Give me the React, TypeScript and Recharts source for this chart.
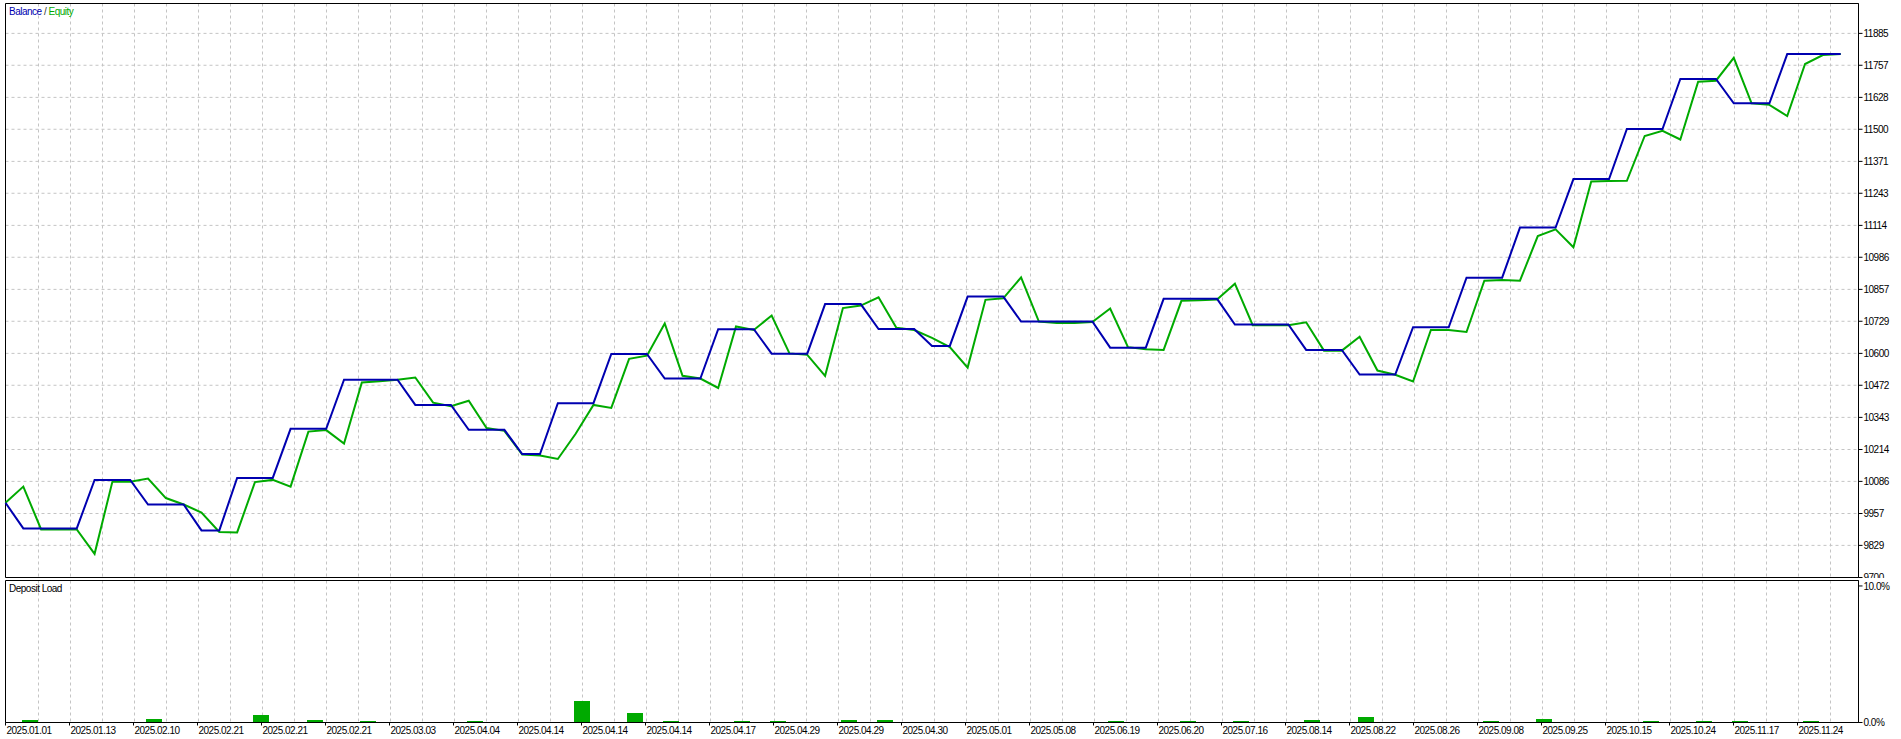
import React from 'react';
import { LineChart, Line, XAxis, YAxis, CartesianGrid, ReferenceArea, ComposedChart, Bar } from 'recharts';

// ---- data -------------------------------------------------------------
const BALANCE = [
  10000, 9897, 9897, 9897, 9897, 10092, 10092, 10092, 9993, 9993,
  9993, 9889, 9889, 10100, 10100, 10100, 10297, 10297, 10297, 10494,
  10494, 10494, 10494, 10393, 10393, 10393, 10293, 10293, 10293, 10196,
  10196, 10400, 10400, 10400, 10598, 10598, 10598, 10499, 10499, 10499,
  10697, 10697, 10697, 10599, 10599, 10599, 10798, 10798, 10798, 10698,
  10698, 10698, 10630, 10630, 10828, 10828, 10828, 10728, 10728, 10728,
  10728, 10728, 10623, 10623, 10623, 10819, 10819, 10819, 10819, 10716,
  10716, 10716, 10716, 10614, 10614, 10614, 10515, 10515, 10515, 10705,
  10705, 10705, 10904, 10904, 10904, 11105, 11105, 11105, 11300, 11300,
  11300, 11501, 11501, 11501, 11702, 11702, 11702, 11604, 11604, 11604,
  11802, 11802, 11802, 11802,
];

const EQUITY = [
  10000, 10065, 9893, 9893, 9893, 9795, 10085, 10085, 10097, 10019,
  9993, 9961, 9883, 9881, 10083, 10092, 10065, 10286, 10292, 10238,
  10483, 10488, 10494, 10503, 10402, 10388, 10410, 10300, 10289, 10194,
  10190, 10176, 10277, 10393, 10381, 10578, 10591, 10720, 10510, 10499,
  10461, 10708, 10694, 10752, 10600, 10594, 10510, 10782, 10792, 10825,
  10703, 10694, 10662, 10625, 10543, 10815, 10821, 10905, 10728, 10722,
  10722, 10726, 10780, 10625, 10617, 10614, 10811, 10813, 10816, 10880,
  10713, 10713, 10713, 10725, 10611, 10611, 10667, 10531, 10514, 10487,
  10694, 10694, 10686, 10892, 10895, 10892, 11071, 11098, 11026, 11290,
  11292, 11293, 11473, 11494, 11459, 11691, 11695, 11787, 11604, 11598,
  11553, 11762, 11798, 11802,
];

const DATE_LABELS = [
  '2025.01.01', '2025.01.13', '2025.02.10', '2025.02.21', '2025.02.21',
  '2025.02.21', '2025.03.03', '2025.04.04', '2025.04.14', '2025.04.14',
  '2025.04.14', '2025.04.17', '2025.04.29', '2025.04.29', '2025.04.30',
  '2025.05.01', '2025.05.08', '2025.06.19', '2025.06.20', '2025.07.16',
  '2025.08.14', '2025.08.22', '2025.08.26', '2025.09.08', '2025.09.25',
  '2025.10.15', '2025.10.24', '2025.11.17', '2025.11.24',
];

const Y_TICKS = [
  9700, 9829, 9957, 10086, 10214, 10343, 10472, 10600, 10729,
  10857, 10986, 11114, 11243, 11371, 11500, 11628, 11757, 11885,
];

const LOAD_AT = [1, 8, 14, 17, 20, 26, 32, 35, 37, 41, 43, 47, 49, 62, 66, 69, 73, 76, 83, 86, 92, 95, 97, 101];
const LOAD_PCT = [0.15, 0.24, 0.53, 0.15, 0.08, 0.08, 1.54, 0.66, 0.08, 0.08, 0.08, 0.15, 0.15, 0.08, 0.08, 0.08, 0.15, 0.39, 0.08, 0.22, 0.08, 0.08, 0.08, 0.08];
const LOAD_TICKS = [0, 10];

// ---- layout / style constants ------------------------------------------
const W = 1901;
const MAIN_H = 578;
const LOAD_TOP = 579;
const LOAD_H = 160;
const PLOT_LEFT = 5.5;
const AXIS_W = 42.5;
const PLOT_W = W - PLOT_LEFT - AXIS_W;
const X_MAX = BALANCE.length; // one empty slot at right
const STEP_PX = PLOT_W / X_MAX;
const LABEL_PX = 64;
const LABEL_STEP = LABEL_PX / STEP_PX;
const Y_MIN = 9700;
const Y_MAX = 12005;
const LOAD_MAX = 10.4;

const BLUE = '#0000b0';
const GREEN = '#00aa00';
const GRID = '#c4c4c4';
const FONT = "'Liberation Sans', Arial, sans-serif";

const mainData = BALANCE.map((b, i) => ({ i, balance: b, equity: EQUITY[i] }));
const loadData = LOAD_AT.map((at, k) => ({ i: at, load: LOAD_PCT[k] }));
const dateTicks = DATE_LABELS.map((_, k) => k * LABEL_STEP);

const gridX = (args: any) => {
  const off = args.offset || { left: PLOT_LEFT, width: PLOT_W };
  const out: number[] = [];
  for (let x = off.left + 33; x < off.left + off.width - 4; x += 32) out.push(x);
  return out;
};

const LoadBar = (props: any) => {
  const { x, y, width, height, fill } = props;
  if (!height || height <= 0) return null;
  const cx = x + width / 2;
  const bottom = Math.floor(y + height);
  const h = Math.max(1, Math.round(height));
  return <rect x={Math.round(cx) - 2} y={bottom - h} width={16} height={h} fill={fill} shapeRendering="crispEdges" />;
};

const DateTick = (props: any) => {
  const { x, y, payload } = props;
  const k = Math.round(payload.value / LABEL_STEP);
  return (
    <text x={x + 1} y={y} dy="0.71em" textAnchor="start" fontSize={10} fill="#000" style={{ letterSpacing: '-0.5px', fontFamily: FONT }}>
      {DATE_LABELS[k]}
    </text>
  );
};

const tickStyle = { fontSize: 10, fill: '#000', letterSpacing: '-0.5px', fontFamily: FONT };

export default function App() {
  return (
    <div style={{ position: 'absolute', left: 0, top: 0, width: W, height: 739, background: '#fff', fontFamily: FONT, overflow: 'hidden' }}>
      <div style={{ position: 'absolute', left: 0, top: 0 }}>
        <LineChart width={W} height={MAIN_H} data={mainData} margin={{ top: 3.5, right: 0, left: PLOT_LEFT, bottom: 0.5 }}>
          <CartesianGrid stroke={GRID} strokeDasharray="3 3" verticalCoordinatesGenerator={gridX} />
          <XAxis dataKey="i" type="number" domain={[0, X_MAX]} hide />
          <YAxis
            orientation="right"
            width={AXIS_W}
            type="number"
            domain={[Y_MIN, Y_MAX]}
            ticks={Y_TICKS}
            interval={0}
            tick={tickStyle}
            tickSize={4}
            tickMargin={1}
            tickLine={{ stroke: '#000' }}
            axisLine={{ stroke: '#000' }}
            allowDataOverflow
          />
          <ReferenceArea x1={0} x2={X_MAX} y1={Y_MIN} y2={Y_MAX} fill="none" stroke="#000" strokeWidth={1} />
          <Line type="linear" dataKey="equity" stroke={GREEN} strokeWidth={2} dot={false} isAnimationActive={false} />
          <Line type="linear" dataKey="balance" stroke={BLUE} strokeWidth={2} dot={false} isAnimationActive={false} />
        </LineChart>
      </div>
      <div style={{ position: 'absolute', left: 9, top: 6, fontSize: 10, letterSpacing: '-0.5px', lineHeight: '12px', whiteSpace: 'nowrap' }}>
        <span style={{ color: BLUE }}>Balance</span>
        <span style={{ color: '#333' }}> / </span>
        <span style={{ color: GREEN }}>Equity</span>
      </div>
      <div style={{ position: 'absolute', left: 0, top: LOAD_TOP, width: W, height: LOAD_H, background: '#fff' }}>
        <ComposedChart width={W} height={LOAD_H} data={loadData} margin={{ top: 1.5, right: 0, left: PLOT_LEFT, bottom: 0 }}>
          <CartesianGrid stroke={GRID} strokeDasharray="3 3" horizontal={false} verticalCoordinatesGenerator={gridX} />
          <XAxis
            dataKey="i"
            type="number"
            domain={[0, X_MAX]}
            ticks={dateTicks}
            interval={0}
            height={16.5}
            tick={<DateTick />}
            tickSize={3}
            tickMargin={1}
            tickLine={{ stroke: '#000' }}
            axisLine={{ stroke: '#000' }}
            allowDataOverflow
          />
          <YAxis
            orientation="right"
            width={AXIS_W}
            type="number"
            domain={[0, LOAD_MAX]}
            ticks={LOAD_TICKS}
            interval={0}
            tickFormatter={(v: number) => `${v.toFixed(1)}%`}
            tick={tickStyle}
            tickSize={4}
            tickMargin={1}
            tickLine={{ stroke: '#000' }}
            axisLine={{ stroke: '#000' }}
            allowDataOverflow
          />
          <ReferenceArea x1={0} x2={X_MAX} y1={0} y2={LOAD_MAX} fill="none" stroke="#000" strokeWidth={1} />
          <Bar dataKey="load" fill={GREEN} barSize={16} shape={<LoadBar />} isAnimationActive={false} />
        </ComposedChart>
      </div>
      <div style={{ position: 'absolute', left: 9, top: 583, fontSize: 10, letterSpacing: '-0.5px', lineHeight: '12px', color: '#000', whiteSpace: 'nowrap' }}>
        Deposit Load
      </div>
    </div>
  );
}
